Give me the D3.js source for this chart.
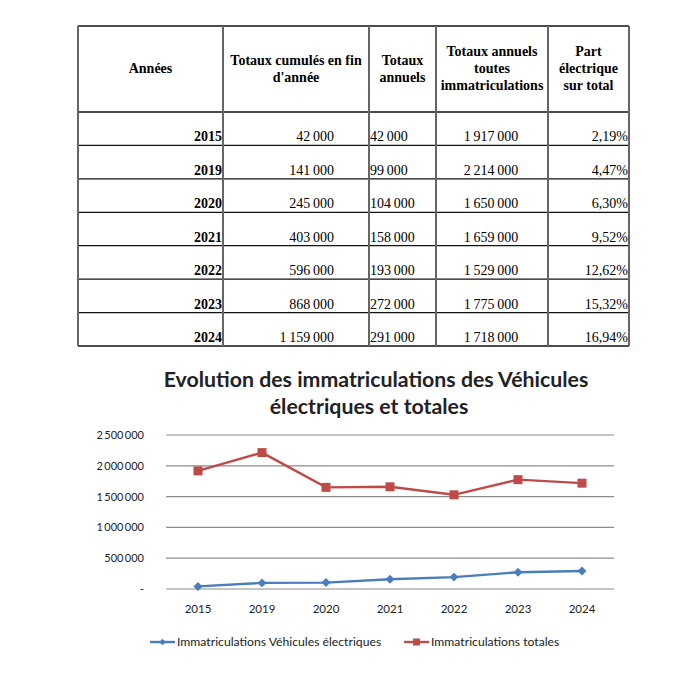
<!DOCTYPE html>
<html>
<head>
    <meta charset="UTF-8">
    <title>Immatriculations véhicules électriques</title>
    <script src="https://d3js.org/d3.v7.min.js"></script>
    <style>
        *{
            padding:0;
            margin:0;
        }
        body { background: #fff; }
        .tbl text { font-family: "Liberation Serif", "Times New Roman", serif; font-size: 14px; fill: #000; }
        .tbl .head { font-weight: bold; }
        .chart text { font-family: Lato, "Open Sans", sans-serif; fill: #222; }
    </style>
</head>
<body>
    <svg id='main' width="700" height="678"></svg>
    <script>
// data
const years = ["2015", "2019", "2020", "2021", "2022", "2023", "2024"];
const cumul = [42000, 141000, 245000, 403000, 596000, 868000, 1159000];
const annuels = [42000, 99000, 104000, 158000, 193000, 272000, 291000];
const totaux = [1917000, 2214000, 1650000, 1659000, 1529000, 1775000, 1718000];
const part = ["2,19%", "4,47%", "6,30%", "9,52%", "12,62%", "15,32%", "16,94%"];
const headers = [
    ["Années"],
    ["Totaux cumulés en fin", "d'année"],
    ["Totaux", "annuels"],
    ["Totaux annuels", "toutes", "immatriculations"],
    ["Part", "électrique", "sur total"]
];
const yTicks = [0, 500000, 1000000, 1500000, 2000000, 2500000];
const seriesNames = ["Immatriculations Véhicules électriques", "Immatriculations totales"];

const svg = d3.select("svg");

// number format with spaces, like the source
const fmt = d3.formatLocale({decimal: ",", thousands: "\u2009", grouping: [3], currency: ["", ""]}).format(",d");
const fmtTbl = d3.formatLocale({decimal: ",", thousands: "\u2009", grouping: [3], currency: ["", ""]}).format(",d");

// ---------- table ----------
const tbl = svg.append("g").attr("class", "tbl");
const colEdges = [78, 223, 369, 436, 548, 629];
const tTop = 26, headBottom = 112, tBottom = 346;
const rowY = d3.scaleBand().domain(years).range([headBottom, tBottom]);

// horizontal lines
const hLines = [tTop, headBottom].concat(years.map(y => rowY(y) + rowY.bandwidth()));
tbl.selectAll("line.h").data(hLines).enter().append("line")
    .attr("x1", colEdges[0]).attr("x2", colEdges[5])
    .attr("y1", d => d).attr("y2", d => d)
    .attr("stroke", "#111").attr("stroke-width", 1.3);
// vertical lines
tbl.selectAll("line.v").data(colEdges).enter().append("line")
    .attr("x1", d => d).attr("x2", d => d)
    .attr("y1", tTop).attr("y2", tBottom)
    .attr("stroke", "#666").attr("stroke-width", 2);

// header text
headers.forEach((lines, i) => {
    const cx = (colEdges[i] + colEdges[i + 1]) / 2;
    const midY = (tTop + headBottom) / 2;
    lines.forEach((s, j) => {
        tbl.append("text").attr("class", "head")
            .attr("x", cx)
            .attr("y", midY + (j - (lines.length - 1) / 2) * 17 + 4)
            .attr("text-anchor", "middle")
            .text(s);
    });
});

// rows
const rows = tbl.selectAll("g.row").data(years).enter().append("g")
    .attr("transform", d => `translate(0,${rowY(d) + rowY.bandwidth() - 4})`);
rows.append("text").attr("class", "head")
    .attr("x", colEdges[1] - 1).attr("text-anchor", "end").text(d => d);
rows.append("text")
    .attr("x", colEdges[2] - 35).attr("text-anchor", "end").text((d, i) => fmtTbl(cumul[i]));
rows.append("text")
    .attr("x", colEdges[2] + 1).attr("text-anchor", "start").text((d, i) => fmtTbl(annuels[i]));
rows.append("text")
    .attr("x", (colEdges[3] + colEdges[4]) / 2 - 1).attr("text-anchor", "middle").text((d, i) => fmtTbl(totaux[i]));
rows.append("text")
    .attr("x", colEdges[5] - 1).attr("text-anchor", "end").text((d, i) => part[i]);

// ---------- chart ----------
const chart = svg.append("g").attr("class", "chart");
const x = d3.scaleBand().domain(years).range([166, 614]);
const y = d3.scaleLinear().domain([0, 2500000]).range([589, 435]);

chart.append("text").attr("x", 376).attr("y", 387).attr("text-anchor", "middle")
    .attr("font-size", 21.3).attr("font-weight", "bold").text("Evolution des immatriculations des Véhicules");
chart.append("text").attr("x", 369).attr("y", 414).attr("text-anchor", "middle")
    .attr("font-size", 21.3).attr("font-weight", "bold").text("électriques et totales");

// grid
chart.selectAll("line.grid").data(yTicks).enter().append("line")
    .attr("x1", x.range()[0]).attr("x2", x.range()[1])
    .attr("y1", d => y(d)).attr("y2", d => y(d))
    .attr("stroke", "#8c8c8c").attr("stroke-width", 1.2);

const yAxis = d3.axisLeft(y).tickValues(yTicks).tickSize(0).tickPadding(0)
    .tickFormat(d => d === 0 ? "-" : fmt(d));
chart.append("g").attr("transform", "translate(144,0)").call(yAxis)
    .call(g => g.select(".domain").remove())
    .selectAll("text").attr("font-size", 11).attr("font-family", "Lato, sans-serif").attr("fill", "#222");

const xAxis = d3.axisBottom(x).tickSize(0).tickPadding(12);
chart.append("g").attr("transform", "translate(0,593)").call(xAxis)
    .call(g => g.select(".domain").remove())
    .selectAll("text").attr("font-size", 11.5).attr("font-family", "Lato, sans-serif").attr("fill", "#222");

const cx = d => x(d) + x.bandwidth() / 2;
const line = d3.line().x((d, i) => cx(years[i])).y(d => y(d));

const blue = "#4a7ebb", red = "#be4b48";
chart.append("path").datum(annuels).attr("d", line)
    .attr("fill", "none").attr("stroke", blue).attr("stroke-width", 2.4);
chart.append("path").datum(totaux).attr("d", line)
    .attr("fill", "none").attr("stroke", red).attr("stroke-width", 2.4);

const diamond = d3.symbol().type(d3.symbolSquare).size(40);
chart.selectAll("path.dia").data(annuels).enter().append("path")
    .attr("d", diamond)
    .attr("transform", (d, i) => `translate(${cx(years[i])},${y(d)}) rotate(45)`)
    .attr("fill", blue);
chart.selectAll("rect.sq").data(totaux).enter().append("rect")
    .attr("x", (d, i) => cx(years[i]) - 4.5).attr("y", d => y(d) - 4.5)
    .attr("width", 9).attr("height", 9)
    .attr("fill", red);

// legend
const legend = chart.append("g").attr("transform", "translate(0,642)");
const legItems = [
    {name: seriesNames[0], x: 150, color: blue, sym: "dia"},
    {name: seriesNames[1], x: 404, color: red, sym: "sq"}
];
legItems.forEach(it => {
    legend.append("line").attr("x1", it.x).attr("x2", it.x + 25)
        .attr("stroke", it.color).attr("stroke-width", 2.4);
    if (it.sym === "dia") {
        legend.append("path").attr("d", d3.symbol().type(d3.symbolSquare).size(22))
            .attr("transform", `translate(${it.x + 12.5},0) rotate(45)`).attr("fill", it.color);
    } else {
        legend.append("rect").attr("x", it.x + 9).attr("y", -3.5).attr("width", 7).attr("height", 7)
            .attr("fill", it.color);
    }
    legend.append("text").attr("x", it.x + 27).attr("y", 4)
        .attr("font-size", 12.2).text(it.name);
});
    </script>
</body>
</html>
